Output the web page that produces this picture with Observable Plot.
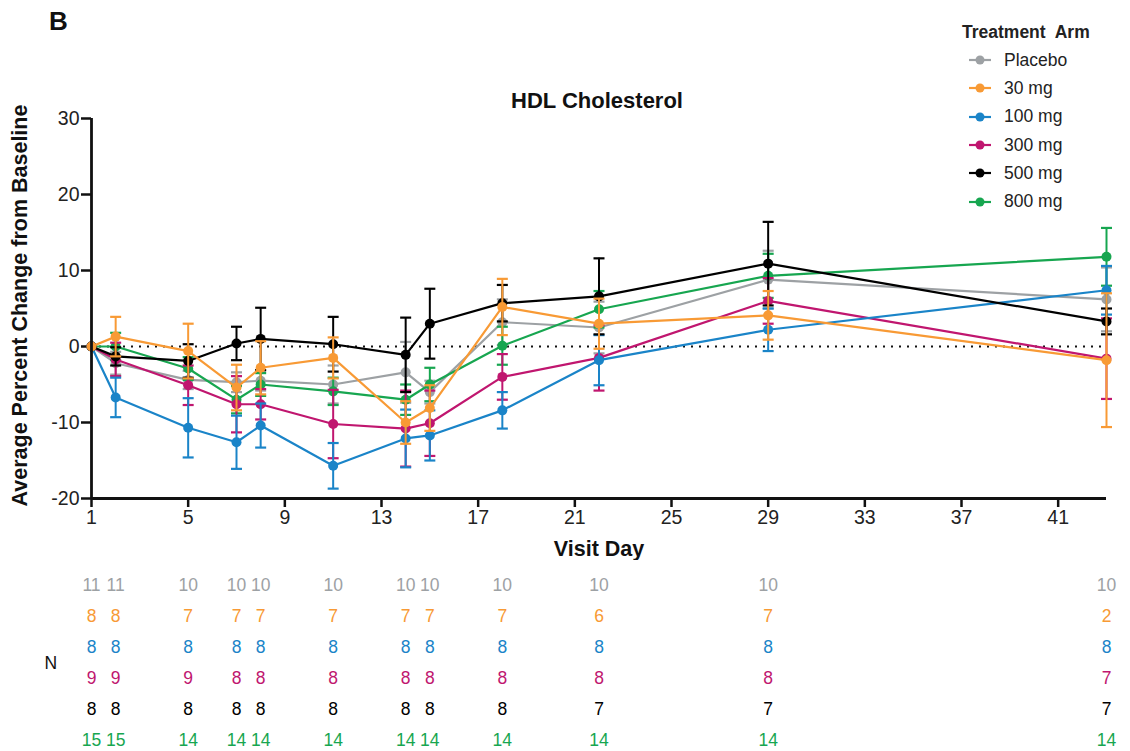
<!DOCTYPE html>
<html><head><meta charset="utf-8">
<script src="https://cdn.jsdelivr.net/npm/d3@7"></script>
<script src="https://cdn.jsdelivr.net/npm/@observablehq/plot@0.6"></script>
<style>
body{margin:0;background:#fff;font-family:"Liberation Sans",Arial,sans-serif;}
#wrap{position:relative;width:1130px;height:751px;overflow:hidden;}
#wrap svg{display:block;}
#panel{position:absolute;left:49px;top:6px;font-weight:bold;font-size:26px;color:#111;}
#legend{position:absolute;left:962px;top:20px;font-size:17.5px;color:#222;}
#legend .ttl{font-weight:bold;margin-bottom:2px;height:24px;line-height:24px;}
#legend .it{height:28.3px;display:flex;align-items:center;}
#legend .it svg{margin-left:6px;margin-right:12px;}
</style></head><body><div id="wrap"><div id="panel">B</div><div id="legend"></div></div>
<script>
const days = [1, 2, 5, 7, 8, 11, 14, 15, 18, 22, 29, 43];
const arms = ["Placebo", "30 mg", "100 mg", "300 mg", "500 mg", "800 mg"];
const armColors = ["#9da1a4", "#f89a35", "#1a84c8", "#c0166f", "#000000", "#17a650"];
const xTicks = [1, 5, 9, 13, 17, 21, 25, 29, 33, 37, 41];
const yTicks = [-20, -10, 0, 10, 20, 30];

const meanPlacebo = [0, -2.2, -4.4, -4.7, -4.5, -5.0, -3.4, -6.0, 3.2, 2.5, 8.8, 6.2];
const mean30 = [0, 1.3, -0.6, -5.4, -2.8, -1.5, -10.0, -8.1, 5.2, 3.0, 4.1, -1.8];
const mean100 = [0, -6.7, -10.7, -12.6, -10.4, -15.7, -12.1, -11.7, -8.4, -1.8, 2.2, 7.4];
const mean300 = [0, -1.7, -5.1, -7.6, -7.6, -10.2, -10.8, -10.1, -4.0, -1.5, 6.0, -1.6];
const mean500 = [0, -1.3, -1.9, 0.4, 1.0, 0.3, -1.1, 3.0, 5.7, 6.6, 10.9, 3.3];
const mean800 = [0, 0.0, -2.9, -7.0, -5.0, -5.9, -7.0, -5.0, 0.1, 4.9, 9.3, 11.8];

const semPlacebo = [0, 1.5, 1.2, 1.3, 1.3, 2.5, 4.0, 1.5, 3.0, 3.4, 3.8, 4.2];
const sem30 = [0, 2.6, 3.6, 3.0, 3.5, 2.7, 2.8, 3.0, 3.7, 3.3, 3.2, 8.8];
const sem100 = [0, 2.6, 3.9, 3.5, 2.9, 3.0, 3.8, 3.3, 2.4, 3.3, 2.8, 3.2];
const sem300 = [0, 2.2, 2.6, 3.7, 2.0, 4.5, 5.0, 4.3, 3.0, 4.3, 3.0, 5.3];
const sem500 = [0, 1.2, 2.2, 2.2, 4.1, 3.6, 4.9, 4.6, 2.4, 5.0, 5.5, 1.7];
const sem800 = [0, 1.8, 1.5, 1.8, 1.5, 1.8, 2.0, 2.2, 2.5, 2.4, 2.9, 3.8];

const nPlacebo = [11, 11, 10, 10, 10, 10, 10, 10, 10, 10, 10, 10];
const n30 = [8, 8, 7, 7, 7, 7, 7, 7, 7, 6, 7, 2];
const n100 = [8, 8, 8, 8, 8, 8, 8, 8, 8, 8, 8, 8];
const n300 = [9, 9, 9, 8, 8, 8, 8, 8, 8, 8, 8, 7];
const n500 = [8, 8, 8, 8, 8, 8, 8, 8, 8, 7, 7, 7];
const n800 = [15, 15, 14, 14, 14, 14, 14, 14, 14, 14, 14, 14];

const means = [meanPlacebo, mean30, mean100, mean300, mean500, mean800];
const sems = [semPlacebo, sem30, sem100, sem300, sem500, sem800];
const ns = [nPlacebo, n30, n100, n300, n500, n800];

const rows = [];
arms.forEach((arm, i) => days.forEach((day, j) => rows.push({arm, day, value: means[i][j], err: sems[i][j], n: ns[i][j]})));

const capSymbol = {draw(ctx, size) { const w = Math.sqrt(size / Math.PI); ctx.moveTo(-w, 0); ctx.lineTo(w, 0); }};
const color = {domain: arms, range: armColors};
const drawOrder = ["Placebo", "800 mg", "300 mg", "100 mg", "500 mg", "30 mg"];

const seriesMarks = [];
for (const arm of drawOrder) {
  const d = rows.filter(r => r.arm === arm);
  const e = d.filter(r => r.err > 0);
  seriesMarks.push(
    Plot.ruleX(e, {x: "day", y1: r => r.value - r.err, y2: r => r.value + r.err, stroke: "arm", strokeWidth: 2}),
    Plot.dot(e, {x: "day", y: r => r.value + r.err, symbol: capSymbol, r: 5.5, stroke: "arm", strokeWidth: 2.2, fill: "none"}),
    Plot.dot(e, {x: "day", y: r => r.value - r.err, symbol: capSymbol, r: 5.5, stroke: "arm", strokeWidth: 2.2, fill: "none"}),
    Plot.line(d, {x: "day", y: "value", stroke: "arm", strokeWidth: 2.2}),
    Plot.dot(d, {x: "day", y: "value", fill: "arm", r: 5, stroke: "none"})
  );
}

const main = Plot.plot({
  width: 1130, height: 560,
  marginLeft: 91, marginRight: 24, marginTop: 118, marginBottom: 62,
  style: {fontFamily: "'Liberation Sans', Arial, sans-serif", color: "#111", background: "transparent"},
  x: {domain: [1, 43]},
  y: {domain: [-20, 30]},
  color,
  marks: [
    Plot.ruleY([0], {stroke: "#111", strokeWidth: 2, strokeDasharray: "2,6"}),
    Plot.axisY({ticks: yTicks, tickFormat: d => String(d), tickSize: 10, tickPadding: 2, fontSize: 19.5, strokeWidth: 2.5, label: null, fill: "#222"}),
    Plot.axisX({ticks: xTicks, tickFormat: d => String(d), tickSize: 9, tickPadding: 3, fontSize: 19.5, strokeWidth: 2.5, label: null, fill: "#222"}),
    ...seriesMarks,
    Plot.ruleX([1], {stroke: "#111", strokeWidth: 2.8}),
    Plot.ruleY([-20], {stroke: "#111", strokeWidth: 2.8}),
    Plot.text(["HDL Cholesterol"], {frameAnchor: "top", dy: -18, dx: -2, lineAnchor: "middle", fontSize: 22, fontWeight: "bold", fill: "#111"}),
    Plot.text(["Visit Day"], {frameAnchor: "bottom", dy: 51, lineAnchor: "middle", fontSize: 21.5, fontWeight: "bold", fill: "#111"}),
    Plot.text(["Average Percent Change from Baseline"], {frameAnchor: "left", dx: -71, dy: -3, rotate: -90, textAnchor: "middle", lineAnchor: "middle", fontSize: 21.5, fontWeight: "bold", fill: "#111"})
  ]
});

const table = Plot.plot({
  width: 1130, height: 191,
  marginLeft: 91, marginRight: 24, marginTop: 25, marginBottom: 11,
  style: {fontFamily: "'Liberation Sans', Arial, sans-serif", color: "#111", background: "transparent"},
  x: {domain: [1, 43], axis: null},
  y: {type: "point", domain: arms, axis: null, padding: 0},
  color,
  marks: [
    Plot.text(rows, {x: "day", y: "arm", text: "n", fill: "arm", fontSize: 17.5}),
    Plot.text(["N"], {frameAnchor: "left", dx: -47, fontSize: 17.5, fill: "#111"})
  ]
});

const wrap = document.getElementById("wrap");
wrap.appendChild(main);
wrap.appendChild(table);

const legend = document.getElementById("legend");
legend.innerHTML = '<div class="ttl">Treatment&nbsp; Arm</div>' + arms.map((a, i) =>
  `<div class="it"><svg width="24" height="12"><line x1="1" x2="23" y1="6" y2="6" stroke="${armColors[i]}" stroke-width="2.2"/><circle cx="12" cy="6" r="4.5" fill="${armColors[i]}"/></svg><span>${a}</span></div>`
).join("");
</script>
</body></html>
